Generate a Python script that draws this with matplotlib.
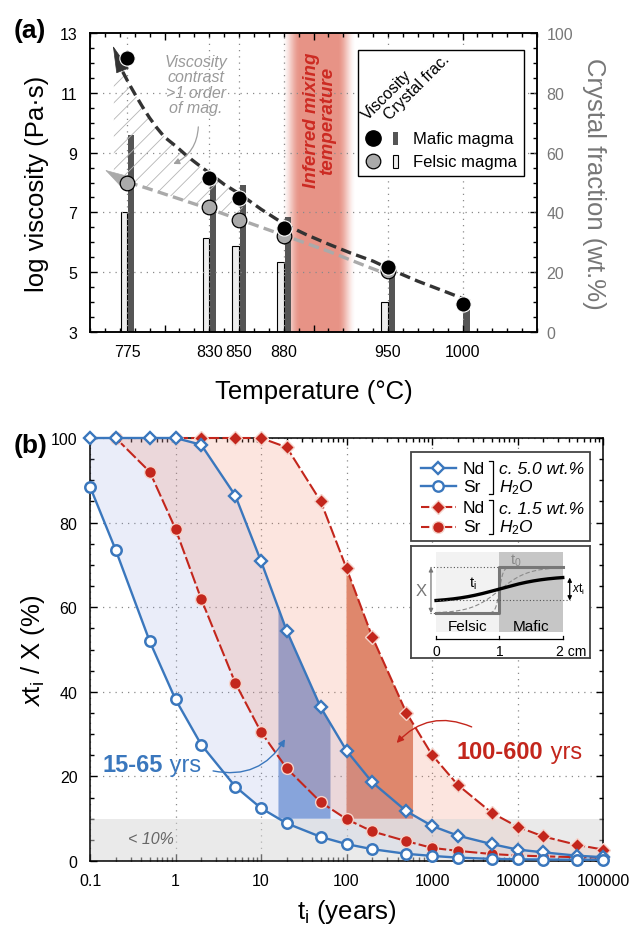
import matplotlib
matplotlib.use('Agg')
import matplotlib.pyplot as plt
import matplotlib.transforms as mtrans
import numpy as np
from matplotlib.patches import Polygon, Rectangle
from matplotlib.ticker import MultipleLocator, LogLocator, NullFormatter

plt.rcParams['font.family'] = ['Liberation Sans', 'DejaVu Sans']
plt.rcParams['mathtext.fontset'] = 'custom'
plt.rcParams['mathtext.rm'] = 'Liberation Sans'
plt.rcParams['mathtext.it'] = 'Liberation Sans:italic'
plt.rcParams['mathtext.bf'] = 'Liberation Sans:bold'
plt.rcParams['hatch.linewidth'] = 0.6

# ---------------- panel (a) data
temps = [775, 830, 850, 880, 950, 1000]
mafic_visc = [12.15, 8.15, 7.48, 6.48, 5.18, 3.94]
felsic_temps = [775, 830, 850, 880, 950]
felsic_visc = [7.97, 7.17, 6.76, 6.22, 5.05]
mafic_cryst = [66, 52, 49, 38.6, 22, 9]
felsic_cryst = [40, 31.3, 28.7, 23.3, 9.9]

# dashed trend curves
mafic_trend_T = [772, 776, 780, 785, 790, 795, 800, 808, 815, 822, 830, 840, 850,
                 865, 880, 895, 910, 925, 940, 955, 970, 990, 1008]
mafic_trend_v = [11.70, 11.32, 10.97, 10.55, 10.16, 9.82, 9.52, 9.20, 8.89, 8.62, 8.32,
                 7.94, 7.63, 7.10, 6.62, 6.26, 5.94, 5.64, 5.37, 5.02, 4.70, 4.32, 3.97]
felsic_trend_T = [775, 790, 810, 830, 855, 882, 910, 937, 947]
felsic_trend_v = [8.02, 7.78, 7.45, 7.12, 6.68, 6.20, 5.70, 5.17, 4.98]
mixing_T = (881, 926)

# ---------------- panel (b) data
t_years = [0.1, 0.2, 0.5, 1, 2, 5, 10, 20, 50, 100, 200, 500, 1000, 2000, 5000,
           10000, 20000, 50000, 100000]
nd_wet = [100, 100, 100, 100, 98.4, 86.4, 70.9, 54.4, 36.3, 26.1, 18.6, 11.8, 8.3,
          6.0, 4.0, 2.7, 2.05, 1.25, 0.9]
sr_wet = [88.5, 73.5, 51.9, 38.2, 27.5, 17.6, 12.5, 8.9, 5.7, 4.0, 2.8, 1.7, 1.2,
          0.8, 0.5, 0.4, 0.35, 0.3, 0.3]
t_nd_dry = t_years[3:]
nd_dry = [100, 100, 100, 100, 97.8, 85.0, 69.2, 53.0, 35.1, 25.1, 18.0, 11.4, 8.1,
          5.8, 3.8, 2.7]
t_sr_dry = t_years[1:]
sr_dry = [100, 92.0, 78.5, 61.9, 42.1, 30.5, 21.9, 13.9, 9.9, 7.0, 4.7, 3.1, 2.4,
          1.65, 1.3, 1.1, 0.9, 0.8]
band_wet = (16, 65)
band_dry = (100, 600)
threshold = 10

blue = '#3a77bd'
red = '#c3261c'

W, H = 644, 929
fig = plt.figure(figsize=(6.44, 9.29), dpi=100)


def px_axes(l, t, r, b):
    return fig.add_axes([l / W, 1 - b / H, (r - l) / W, (b - t) / H])


# =============== panel (a)
axa = px_axes(90, 34, 537, 333)
axc = axa.twinx()
axa.set_zorder(axc.get_zorder() + 1)
axa.patch.set_visible(False)

# inferred mixing temperature band
xs = np.linspace(mixing_T[0] - 2, mixing_T[1] + 2, 300)
c = (mixing_T[0] + mixing_T[1]) / 2
half = (mixing_T[1] - mixing_T[0]) / 2 + 2
a = np.clip((half - np.abs(xs - c)) / 12, 0, 1)
a = a * a * (3 - 2 * a) * 0.66
img = np.zeros((1, xs.size, 4))
img[..., 0], img[..., 1], img[..., 2] = 0.86, 0.36, 0.28
img[..., 3] = a
axc.imshow(img, extent=(xs[0], xs[-1], 0, 100), aspect='auto',
           interpolation='bilinear', zorder=0)

# crystal fraction bars
axc.bar(felsic_temps, felsic_cryst, width=-4.4, align='edge', color='#eeeeee',
        edgecolor='black', linewidth=0.8, zorder=2)
axc.bar(np.array(temps) + 0.6, mafic_cryst, width=4.2, align='edge',
        color='#555555', linewidth=0, zorder=2)

axa.set_xlim(750, 1050)
axa.set_ylim(3, 13)
axc.set_ylim(0, 100)

# grid
dots = (0, (1, 4))
for T in temps:
    axa.axvline(T, color='#8a8a8a', lw=0.9, ls=dots, zorder=0.5)
for v in [5, 7, 9, 11]:
    axa.axhline(v, color='#8a8a8a', lw=0.9, ls=dots, zorder=0.5)

# hatched viscosity contrast
mt, mv = np.array(mafic_trend_T), np.array(mafic_trend_v)
ft, fv = np.array(felsic_trend_T), np.array(felsic_trend_v)
end_T = 856
poly = [(766, 11.5)] + list(zip(mt[mt <= end_T], mv[mt <= end_T]))
poly += list(zip(ft[ft <= end_T], fv[ft <= end_T]))[::-1] + [(766, 8.15)]
axa.add_patch(Polygon(poly, closed=True, fill=False, hatch='//',
                      edgecolor='#b5b5b5', lw=0, zorder=1))

# trend curves and arrowheads
axa.plot(ft, fv, color='#aaaaaa', lw=2.4, dashes=(3.2, 1.6), zorder=3)
axa.plot(mt, mv, color='#333333', lw=2.4, dashes=(3.2, 1.6), zorder=3)
axa.annotate('', xy=(765.4, 12.57), xytext=(772.2, 11.7),
             arrowprops=dict(arrowstyle='-|>,head_length=1.2,head_width=0.3',
                             mutation_scale=15, color='#333333', lw=0.5,
                             shrinkA=0, shrinkB=0), zorder=4)
axa.annotate('', xy=(760.1, 8.42), xytext=(774.9, 7.98),
             arrowprops=dict(arrowstyle='-|>,head_length=1.05,head_width=0.3',
                             mutation_scale=15, color='#aaaaaa', lw=0.5,
                             shrinkA=0, shrinkB=0), zorder=4)

# viscosity points
axa.plot(felsic_temps, felsic_visc, 'o', ms=10.5, mfc='#aaaaaa', mec='black',
         mew=0.9, zorder=6, clip_on=False)
axa.plot(temps, mafic_visc, 'o', ms=11, mfc='black', mec='white', mew=0.8,
         zorder=7, clip_on=False)

# annotations
axa.text(821, 11.28, 'Viscosity\ncontrast\n>1 order\nof mag.', ha='center',
         va='center', fontsize=11.5, style='italic', color='#9a9a9a',
         linespacing=1.05, zorder=8)
axa.annotate('', xy=(805.9, 8.62), xytext=(822.7, 9.86),
             arrowprops=dict(arrowstyle='-|>', mutation_scale=9, color='#a0a0a0',
                             lw=0.9, connectionstyle='arc3,rad=-0.3',
                             shrinkA=0, shrinkB=0))
axa.text(904, 10.1, 'Inferred mixing\ntemperature', rotation=90, ha='center',
         va='center', fontsize=13.5, fontweight='bold', style='italic',
         color='#cc2a22', linespacing=0.95, zorder=8)

# ticks
axa.set_xticks([800, 900, 1000])
axa.set_xticklabels([])
axa.xaxis.set_minor_locator(MultipleLocator(10))
axa.set_yticks([3, 5, 7, 9, 11, 13])
axa.yaxis.set_minor_locator(MultipleLocator(0.5))
axa.tick_params(which='both', direction='in', top=True, right=False, width=1,
                labelsize=11.5, pad=9)
axa.tick_params(which='major', length=5)
axa.tick_params(which='minor', length=3)
axc.set_yticks(range(0, 101, 20))
axc.yaxis.set_minor_locator(MultipleLocator(5))
axc.tick_params(which='both', direction='in', width=1, labelsize=11.5, pad=7,
                labelcolor='#777777')
axc.tick_params(which='major', length=5)
axc.tick_params(which='minor', length=3)
for ax in (axa, axc):
    for s in ax.spines.values():
        s.set_linewidth(1.1)

trans = mtrans.blended_transform_factory(axa.transData, axa.transAxes)
for T in temps:
    axa.text(T, -0.066, str(T), transform=trans, ha='center', va='center',
             fontsize=11.5)

axa.set_xlabel('Temperature (°C)', fontsize=18.5, labelpad=25)
axa.set_ylabel('log viscosity (Pa·s)', fontsize=18.5, labelpad=8)
axc.set_ylabel('Crystal fraction (wt.%)', fontsize=18.5, color='#777777',
               rotation=270, va='bottom', labelpad=6)

# =============== panel (b)
axb = px_axes(90, 439, 603, 862)
axb.set_xscale('log')
axb.set_xlim(0.1, 1e5)
axb.set_ylim(0, 100)


def band_poly(x0, x1, tx, ty):
    lx = np.log10(tx)
    inside = [(t, y) for t, y in zip(tx, ty) if x0 < t < x1]
    y0 = np.interp(np.log10(x0), lx, ty)
    y1 = np.interp(np.log10(x1), lx, ty)
    return [(x0, threshold), (x0, y0)] + inside + [(x1, y1), (x1, threshold)]


axb.add_patch(Polygon(band_poly(band_wet[0], band_wet[1], t_years, nd_wet),
                      closed=True, fc='#86a6db', lw=0, zorder=0.9))
axb.add_patch(Polygon(band_poly(band_dry[0], band_dry[1], t_nd_dry, nd_dry),
                      closed=True, fc='#dc896f', lw=0, zorder=0.9))

wet_poly = list(zip(t_years, nd_wet)) + list(zip(t_years, sr_wet))[::-1]
axb.add_patch(Polygon(wet_poly, closed=True, fc='#8ea0e0', alpha=0.18, lw=0,
                      zorder=1))
dry_poly = list(zip(t_nd_dry, nd_dry)) + list(zip(t_sr_dry, sr_dry))[::-1]
axb.add_patch(Polygon(dry_poly, closed=True, fc='#f08060', alpha=0.2, lw=0,
                      zorder=1.1))
axb.axhspan(0, threshold, color='#d6d6d6', alpha=0.5, lw=0, zorder=1.2)

axb.grid(which='major', color='#8a8a8a', lw=0.9, ls=dots)
axb.set_axisbelow(True)

axb.plot(t_nd_dry, nd_dry, color=red, lw=1.5, dashes=(6, 1.5), marker='D', ms=7,
         mfc=red, mec='#f5d3ca', mew=1, zorder=4, clip_on=False)
axb.plot(t_sr_dry, sr_dry, color=red, lw=1.5, dashes=(6, 1.5), marker='o',
         ms=8.5, mfc=red, mec='#f5d3ca', mew=1, zorder=4, clip_on=False)
axb.plot(t_years, nd_wet, color=blue, lw=1.7, marker='D', ms=6.5, mfc='white',
         mec=blue, mew=1.7, zorder=5, clip_on=False)
axb.plot(t_years, sr_wet, color=blue, lw=1.7, marker='o', ms=7.5, mfc='white',
         mec=blue, mew=1.8, zorder=6, clip_on=False)

axb.text(0.28, 5.4, '< 10%', fontsize=11.5, style='italic', color='#666666',
         va='center', zorder=3)
t1 = axb.text(0.14, 22.9, '15-65', fontsize=17, fontweight='bold', color=blue,
              va='center', zorder=7)
axb.annotate(' yrs', xy=(1, 0), xycoords=t1, va='bottom', fontsize=17,
             color=blue, zorder=7)
axb.annotate('', xy=(19.1, 28.8), xytext=(2.75, 21.3),
             arrowprops=dict(arrowstyle='-|>', mutation_scale=10, color=blue,
                             lw=1.0, connectionstyle='arc3,rad=0.35',
                             shrinkA=0, shrinkB=0), zorder=7)
t2 = axb.text(1960, 25.8, '100-600', fontsize=17, fontweight='bold', color=red,
              va='center', zorder=7)
axb.annotate(' yrs', xy=(1, 0), xycoords=t2, va='bottom', fontsize=17,
             color=red, zorder=7)
axb.annotate('', xy=(386, 27.9), xytext=(2910, 31.7),
             arrowprops=dict(arrowstyle='-|>', mutation_scale=10, color=red,
                             lw=1.0, connectionstyle='arc3,rad=0.35',
                             shrinkA=0, shrinkB=0), zorder=7)

axb.set_xticks([0.1, 1, 10, 100, 1000, 1e4, 1e5])
axb.set_xticklabels(['0.1', '1', '10', '100', '1000', '10000', '100000'])
axb.xaxis.set_minor_locator(LogLocator(base=10, subs=np.arange(2, 10), numticks=20))
axb.xaxis.set_minor_formatter(NullFormatter())
axb.set_yticks(range(0, 101, 20))
axb.yaxis.set_minor_locator(MultipleLocator(5))
axb.tick_params(which='both', direction='in', top=True, right=True, width=1,
                labelsize=11.5, pad=9)
axb.tick_params(which='major', length=5)
axb.tick_params(which='minor', length=3)
for s in axb.spines.values():
    s.set_linewidth(1.1)
axb.set_xlabel(r'$\mathregular{t_i}$ (years)', fontsize=18.5, labelpad=6)
axb.set_ylabel(r'$\mathit{x}\mathregular{t_i}$ / X (%)', fontsize=18.5,
               labelpad=3)

# =============== inset schematic (cm along profile, normalised concentration)
axi = px_axes(410.7, 546.7, 590, 659)
axi.set_zorder(21)
axi.set_xlim(-0.40, 2.43)
axi.set_ylim(-0.98, 1.47)
axi.set_xticks([])
axi.set_yticks([])
for s in axi.spines.values():
    s.set_color('#444444')
    s.set_linewidth(1.3)
axi.add_patch(Rectangle((0, -0.41), 1, 1.735, color='#f2f2f2', lw=0))
axi.add_patch(Rectangle((1, -0.41), 1, 1.735, color='#c6c6c6', lw=0))
xx = np.linspace(0, 2, 200)
for w in (0.06, 0.45):
    axi.plot(xx, 0.5 + 0.5 * np.tanh((xx - 1) / w), color='#8a8a8a', lw=0.8,
             dashes=(4, 2))
axi.plot([0, 1, 1, 2], [0, 0, 1, 1], color='#777777', lw=2.2)
yi = 0.525 + 0.25 * np.tanh((xx - 1) / 0.75) / np.tanh(1 / 0.75)
axi.plot(xx, yi, color='black', lw=2.4)
axi.plot([-0.1, 1], [1, 1], color='#555555', lw=0.8, ls=(0, (1, 2)))
axi.plot([-0.1, 0], [0, 0], color='#555555', lw=0.8, ls=(0, (1, 2)))
axi.plot([0, 2.12], [yi[0], yi[0]], color='#555555', lw=0.8, ls=(0, (1, 2)))
axi.annotate('', xy=(-0.08, 1), xytext=(-0.08, 0),
             arrowprops=dict(arrowstyle='<|-|>', mutation_scale=6,
                             color='#777777', lw=0.9, shrinkA=0, shrinkB=0))
axi.annotate('', xy=(2.11, yi[-1]), xytext=(2.11, yi[0]),
             arrowprops=dict(arrowstyle='<|-|>', mutation_scale=6,
                             color='black', lw=0.9, shrinkA=0, shrinkB=0))
axi.text(-0.24, 0.5, 'X', fontsize=12, color='#777777', ha='center', va='center')
axi.text(2.15, 0.53, r'$\mathit{x}\mathregular{t_i}$', fontsize=8.5, ha='left',
         va='center')
axi.text(1.26, 1.16, r'$\mathregular{t_0}$', fontsize=10.5, color='#888888',
         ha='center', va='center')
axi.text(0.58, 0.66, r'$\mathregular{t_i}$', fontsize=10.5, ha='center',
         va='center')
axi.text(0.5, -0.28, 'Felsic', fontsize=11, ha='center', va='center')
axi.text(1.5, -0.28, 'Mafic', fontsize=11, ha='center', va='center')
axi.plot([0, 2], [-0.57, -0.57], color='black', lw=0.9)
for xv in (0, 1, 2):
    axi.plot([xv, xv], [-0.57, -0.49], color='black', lw=0.9)
axi.text(0, -0.82, '0', fontsize=10, ha='center', va='center')
axi.text(1, -0.82, '1', fontsize=10, ha='center', va='center')
axi.text(1.9, -0.82, '2 cm', fontsize=10, ha='left', va='center')

# =============== overlay: panel letters and legends (pixel coordinates)
ov = fig.add_axes([0, 0, 1, 1])
ov.set_xlim(0, W)
ov.set_ylim(H, 0)
ov.axis('off')
ov.set_zorder(20)

ov.text(30, 31, '(a)', fontsize=19, fontweight='bold', ha='center', va='center')
ov.text(31, 446, '(b)', fontsize=19, fontweight='bold', ha='center', va='center')

# legend (a)
ov.add_patch(Rectangle((358, 51), 166, 126, fc='white', ec='black', lw=1.0))
ov.text(368, 121, 'Viscosity', rotation=45, rotation_mode='anchor', ha='left',
        va='baseline', fontsize=11.5)
ov.text(390, 121, 'Crystal frac.', rotation=45, rotation_mode='anchor',
        ha='left', va='baseline', fontsize=11.5)
ov.plot([373], [139], 'o', ms=11, mfc='black', mec='black')
ov.plot([373], [162], 'o', ms=10.5, mfc='#aaaaaa', mec='black', mew=0.9)
ov.add_patch(Rectangle((393.5, 132.5), 5, 13, fc='#555555', lw=0))
ov.add_patch(Rectangle((393.5, 155.5), 5, 13, fc='#eeeeee', ec='black', lw=0.8))
ov.text(413, 139, 'Mafic magma', fontsize=12, va='center')
ov.text(413, 162, 'Felsic magma', fontsize=12, va='center')

# legend (b)
ov.add_patch(Rectangle((410.7, 453.3), 179.3, 88.4, fc='white', ec='#444444',
                       lw=1.3))
rows = [469.3, 487.3, 508.3, 527.7]
styles = [(blue, '-', 'D', 'white', 6.5), (blue, '-', 'o', 'white', 7.5),
          (red, '--', 'D', red, 7), (red, '--', 'o', red, 8.5)]
for y, (col, lsty, mk, face, ms) in zip(rows, styles):
    if lsty == '-':
        ov.plot([421, 456], [y, y], color=col, lw=1.7)
    else:
        ov.plot([421, 456], [y, y], color=col, lw=1.5, dashes=(4, 1.5))
    ov.plot([438.5], [y], marker=mk, ms=ms, mfc=face,
            mec=col if face == 'white' else '#f5d3ca',
            mew=1.7 if face == 'white' else 1)
for y, lab in zip(rows, ['Nd', 'Sr', 'Nd', 'Sr']):
    ov.text(463, y, lab, fontsize=12.5, va='center')
for y0, y1 in [(461.5, 495), (500.5, 535)]:
    ov.plot([489.5, 492.7, 492.7, 489.5], [y0, y0, y1, y1], color='black', lw=0.9)
ov.text(499, 470, 'c. 5.0 wt.%', fontsize=12.5, style='italic', va='center')
ov.text(499, 488, r'$\mathit{H_2O}$', fontsize=12.5, va='center')
ov.text(499, 509, 'c. 1.5 wt.%', fontsize=12.5, style='italic', va='center')
ov.text(499, 528, r'$\mathit{H_2O}$', fontsize=12.5, va='center')

fig.savefig('out.png', dpi=100)
